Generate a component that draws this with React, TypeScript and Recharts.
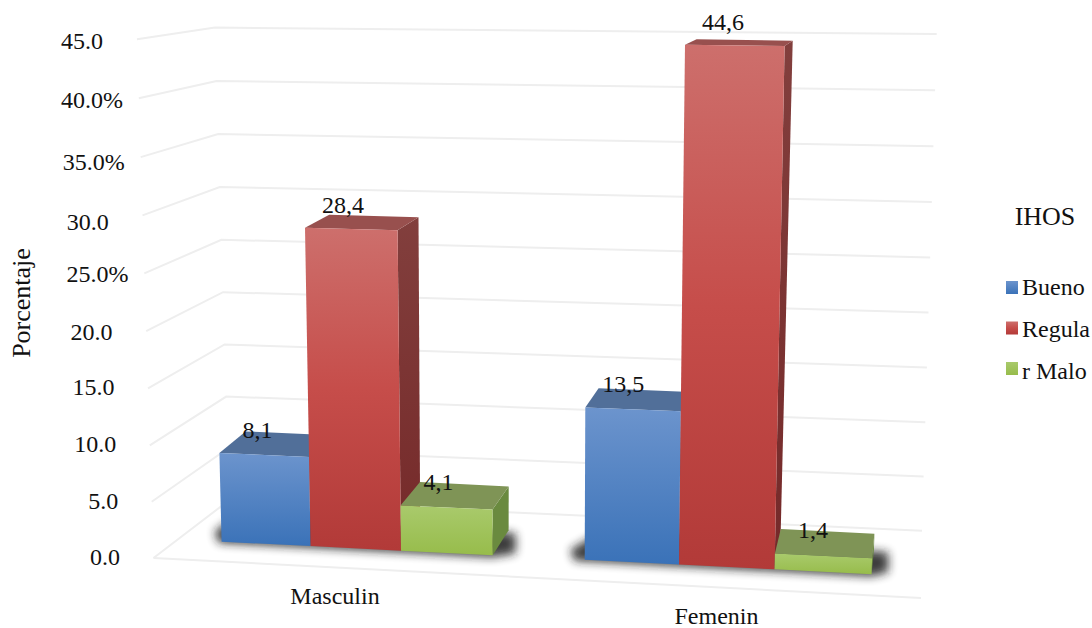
import React from 'react';
import { BarChart, Bar, XAxis, YAxis, CartesianGrid, Legend, LabelList, Label } from 'recharts';

const categories = ['Masculin', 'Femenin'];
const bueno = [8.1, 13.5];
const regular = [28.4, 44.6];
const malo = [4.1, 1.4];
const tickValues = [0, 5, 10, 15, 20, 25, 30, 35, 40, 45];
const tickLabels = ['0.0', '5.0', '10.0', '15.0', '20.0', '25.0%', '30.0', '35.0%', '40.0%', '45.0'];
const seriesNames = ['Bueno', 'Regula', 'r Malo'];
const legendTitle = 'IHOS';
const axisTitle = 'Porcentaje';

const rows = categories.map((name, i) => ({ name, bueno: bueno[i], regular: regular[i], malo: malo[i] }));

const W = 1092;
const H = 628;
const TOP = 39;
const BOTTOM = 557;
const PPU = (BOTTOM - TOP) / 45;
const FONT = '"Liberation Serif", serif';

const faces: Record<string, { top: string; side: string }> = {
  bueno: { top: '#516f99', side: 'url(#sideB)' },
  regular: { top: '#98504e', side: 'url(#sideR)' },
  malo: { top: '#7f9456', side: '#6a8a3f' },
};

// perspective of the original 3-D plot, applied to the library's scaled pixels
const baseX = (p: number) => p - 4 + 7.7e-5 * (p - 542.5) ** 2;
const baseY = (x: number) => 541.7 + 0.05 * (x - 221.7);
const rise = (v: number, x: number) => v * (10.93 + (x - 300) * 0.0008 + 0.0095 * v);
const lean = (x: number, h: number) => x + (x - 535) * 7.97e-5 * h;
const depthX = (x: number, h: number) => 2 + (880 - x) * 0.036 + h * 0.005;
const depthY = (h: number) => 25 - 0.0375 * h;
const pts = (a: number[][]) => a.map((q) => q.map((n) => n.toFixed(1)).join(',')).join(' ');

function corner(p: number, v: number) {
  const xb = baseX(p);
  const yb = baseY(xb);
  const h = rise(v, xb);
  return { xb, yb, h, xt: lean(xb, h), yt: yb - h };
}

function Bar3D(props: any) {
  const { x, width, height, fill, dataKey } = props;
  const v = height / PPU;
  const L = corner(x, v);
  const R = corner(x + width, v);
  const dxL = depthX(L.xt, L.h);
  const dxR = depthX(R.xt, R.h);
  const dyL = depthY(L.h);
  const dyR = depthY(R.h);
  const dx0 = depthX(R.xb, 0);
  const dy0 = depthY(0);
  const face = faces[dataKey];
  let shadow = null;
  if (dataKey === 'bueno') {
    const a = baseX(x);
    const b = baseX(x + 3 * width);
    const ya = baseY(a);
    const yb = baseY(b);
    const spread = 7 + (a - 220) * 0.02;
    shadow = (
      <polygon
        points={pts([
          [a - spread, ya - 10],
          [a - spread + 4, ya + 1],
          [b, yb + 2],
          [b + depthX(b, 0) + spread, yb - 2],
          [b + depthX(b, 0) + spread, yb - 22],
          [a + 20, ya - 30],
        ])}
        fill="#1c1c1c"
        opacity={0.85}
        filter="url(#floorBlur)"
      />
    );
  }
  return (
    <g>
      {shadow}
      <polygon
        points={pts([
          [R.xt, R.yt],
          [R.xt + dxR, R.yt - dyR],
          [R.xb + dx0, R.yb - dy0],
          [R.xb, R.yb],
        ])}
        fill={face.side}
      />
      <polygon
        points={pts([
          [L.xt, L.yt],
          [L.xt + dxL, L.yt - dyL],
          [R.xt + dxR, R.yt - dyR],
          [R.xt, R.yt],
        ])}
        fill={face.top}
      />
      <polygon
        points={pts([
          [L.xt, L.yt],
          [R.xt, R.yt],
          [R.xb, R.yb],
          [L.xb, L.yb],
        ])}
        fill={fill}
      />
    </g>
  );
}

function BarValue(props: any) {
  const { x, height, value } = props;
  const L = corner(x, height / PPU);
  return (
    <text x={L.xt + 38} y={L.yt - 15} textAnchor="middle" fontFamily={FONT} fontSize={24} fill="#111">
      {String(value).replace('.', ',')}
    </text>
  );
}

const wallLeft = (v: number) => [153.5 - (16.5 * v) / 45, 558 - v * (11.2 + 0.0073 * v)];
const wallCorner = (v: number) => [229.4 - (14.4 * v) / 45, 500 - v * (10.3 + 0.0044 * v)];
const wallRight = (v: number) => [922 + (14.7 * v) / 45, 530.7 - v * (10.8 + 0.0053 * v)];

function GridLine(props: any) {
  const v = Math.round((BOTTOM - props.y1) / PPU);
  return (
    <g key={props.key}>
      <polyline
        points={pts([wallLeft(v), wallCorner(v), wallRight(v)])}
        fill="none"
        stroke="#eeeeee"
        strokeWidth={2}
      />
      {v === 0 && <polyline points={pts([wallLeft(0), [921, 598]])} fill="none" stroke="#eeeeee" strokeWidth={2} />}
    </g>
  );
}

const tickNudge = [7, 7, 7, 7, 9, 9, 14.7, 13, 10, 10];

function YTick(props: any) {
  const v = props.payload.value;
  const i = tickValues.indexOf(v);
  const label = tickLabels[i];
  const right = 103 + (45 - v) * 0.38 + (label.endsWith('%') ? 18 : 0);
  return (
    <text x={right} y={wallLeft(v)[1] + tickNudge[i]} textAnchor="end" fontFamily={FONT} fontSize={24} fill="#111">
      {label}
    </text>
  );
}

function XTick(props: any) {
  const { x, payload } = props;
  return (
    <text
      x={x - 22 + (x - 357) * 0.0283}
      y={604 + (x - 357) * 0.054}
      textAnchor="middle"
      fontFamily={FONT}
      fontSize={24}
      fill="#111"
    >
      {payload.value}
    </text>
  );
}

function LegendBox(props: any) {
  const items = props.payload || [];
  return (
    <svg width={92} height={200} style={{ overflow: 'visible', display: 'block' }}>
      <text x={45} y={35} textAnchor="middle" fontFamily={FONT} fontSize={26} fill="#111">
        {legendTitle}
      </text>
      {items.map((it: any, i: number) => (
        <g key={it.value}>
          <rect x={6} y={91 + i * 40.5} width={12} height={13} fill={it.color} />
          <text x={22} y={105 + i * 42} fontFamily={FONT} fontSize={24} fill="#111">
            {it.value}
          </text>
        </g>
      ))}
    </svg>
  );
}

export default function App() {
  return (
    <div style={{ position: 'absolute', left: 0, top: 0, width: W, height: H, background: '#fff' }}>
      <BarChart
        width={W}
        height={H}
        data={rows}
        barSize={93}
        barGap={0}
        margin={{ top: TOP, right: 178.5, bottom: H - BOTTOM - 30, left: 111.5 }}
      >
        <defs>
          <linearGradient id="gradB" x1="0" y1="0" x2="0" y2="1">
            <stop offset="0" stopColor="#6c94cd" />
            <stop offset="1" stopColor="#3a72b8" />
          </linearGradient>
          <linearGradient id="gradR" x1="0" y1="0" x2="0" y2="1">
            <stop offset="0" stopColor="#cd6f6c" />
            <stop offset="0.5" stopColor="#c64d4a" />
            <stop offset="1" stopColor="#b23a38" />
          </linearGradient>
          <linearGradient id="gradG" x1="0" y1="0" x2="0" y2="1">
            <stop offset="0" stopColor="#a9ca6c" />
            <stop offset="1" stopColor="#97bc4b" />
          </linearGradient>
          <linearGradient id="sideR" x1="0" y1="0" x2="0" y2="1">
            <stop offset="0" stopColor="#823f3d" />
            <stop offset="1" stopColor="#752929" />
          </linearGradient>
          <linearGradient id="sideB" x1="0" y1="0" x2="0" y2="1">
            <stop offset="0" stopColor="#3f5f8c" />
            <stop offset="1" stopColor="#2a4f80" />
          </linearGradient>
          <filter id="floorBlur" x="-20%" y="-60%" width="140%" height="220%">
            <feGaussianBlur stdDeviation="5" />
          </filter>
        </defs>
        <CartesianGrid horizontal={GridLine as any} vertical={false} />
        <XAxis dataKey="name" axisLine={false} tickLine={false} height={30} interval={0} tick={XTick as any} />
        <YAxis
          domain={[0, 45]}
          ticks={tickValues}
          axisLine={false}
          tickLine={false}
          width={60}
          tick={YTick as any}
          interval={0}
        >
          <Label
            content={() => (
              <text
                transform="translate(30 303) rotate(-90)"
                textAnchor="middle"
                fontFamily={FONT}
                fontSize={26}
                fill="#111"
              >
                {axisTitle}
              </text>
            )}
          />
        </YAxis>
        <Legend
          layout="vertical"
          align="center"
          verticalAlign="middle"
          wrapperStyle={{ left: 1000, top: 190, width: 92, height: 200 }}
          content={LegendBox as any}
        />
        <Bar dataKey="bueno" name={seriesNames[0]} fill="url(#gradB)" shape={Bar3D} isAnimationActive={false}>
          <LabelList dataKey="bueno" content={BarValue as any} />
        </Bar>
        <Bar dataKey="regular" name={seriesNames[1]} fill="url(#gradR)" shape={Bar3D} isAnimationActive={false}>
          <LabelList dataKey="regular" content={BarValue as any} />
        </Bar>
        <Bar dataKey="malo" name={seriesNames[2]} fill="url(#gradG)" shape={Bar3D} isAnimationActive={false}>
          <LabelList dataKey="malo" content={BarValue as any} />
        </Bar>
      </BarChart>
    </div>
  );
}
